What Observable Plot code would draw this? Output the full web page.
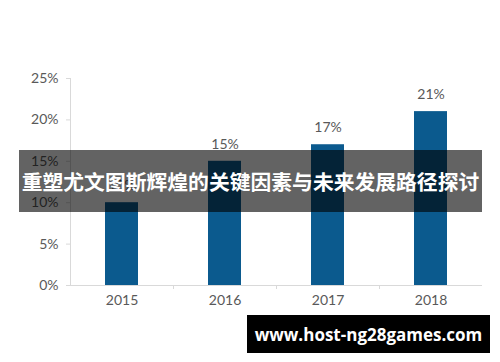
<!DOCTYPE html>
<html><head><meta charset="utf-8">
<script src="https://cdn.jsdelivr.net/npm/d3@7"></script>
<script src="https://cdn.jsdelivr.net/npm/@observablehq/plot@0.6"></script>
<style>
body{margin:0;background:#fff;}
#wrap{position:relative;width:500px;height:362px;overflow:hidden;background:#fff;}
#wrap svg{position:absolute;left:0;top:0;}
.banner{position:absolute;left:19px;top:150px;width:463px;height:62px;background:rgba(0,0,0,0.61);color:#fff;font-family:"Noto Sans CJK SC";font-weight:bold;font-size:20.8px;display:flex;align-items:center;justify-content:center;white-space:nowrap;}
.wm{position:absolute;left:247px;top:315px;width:243px;height:38px;background:#000;color:#fff;font-family:"Open Sans";font-weight:bold;font-size:17px;display:flex;align-items:center;justify-content:center;white-space:nowrap;}
</style></head><body>
<div id="wrap"></div>
<script>
const years = ["2015", "2016", "2017", "2018"];
const shares = [0.10, 0.15, 0.17, 0.21];
const yTicks = [0, 0.05, 0.10, 0.15, 0.20, 0.25];
const bannerTitle = "重塑尤文图斯辉煌的关键因素与未来发展路径探讨";
const watermark = "www.host-ng28games.com";

const data = years.map((y, i) => ({year: y, share: shares[i]}));
const pct = d3.format(".0%");

const chart = Plot.plot({
  width: 500, height: 362,
  marginTop: 78, marginBottom: 77, marginLeft: 70, marginRight: 18,
  style: {fontFamily: "Lato", fontSize: "14px", color: "#595959", background: "transparent"},
  x: {domain: years, paddingInner: 0.68, paddingOuter: 0.34, label: null},
  y: {domain: [0, 0.25], label: null},
  marks: [
    Plot.frame({anchor: "left", stroke: "#d9d9d9"}),
    Plot.ruleY([0], {stroke: "#d9d9d9"}),
    Plot.axisY(yTicks, {tickFormat: pct, tickSize: 4, tickPadding: 8, stroke: "#d9d9d9", fill: "#595959", fontSize: 14, label: null}),
    Plot.axisX({tickSize: 0, tickPadding: 10, fill: "#595959", fontSize: 14, label: null}),
    Plot.axisX(years.slice(1), {tickSize: 4, tickFormat: () => "", dx: -51.5, stroke: "#d9d9d9", label: null}),
    Plot.barY(data, {x: "year", y: "share", fill: "#0b5a8e"}),
    Plot.text(data, {x: "year", y: "share", text: d => pct(d.share), dy: -17, fill: "#595959", fontSize: 14})
  ]
});
const wrap = document.getElementById("wrap");
wrap.appendChild(chart);
const b = document.createElement("div"); b.className = "banner"; b.textContent = bannerTitle; wrap.appendChild(b);
const w = document.createElement("div"); w.className = "wm"; w.textContent = watermark; wrap.appendChild(w);
</script>
</body></html>
